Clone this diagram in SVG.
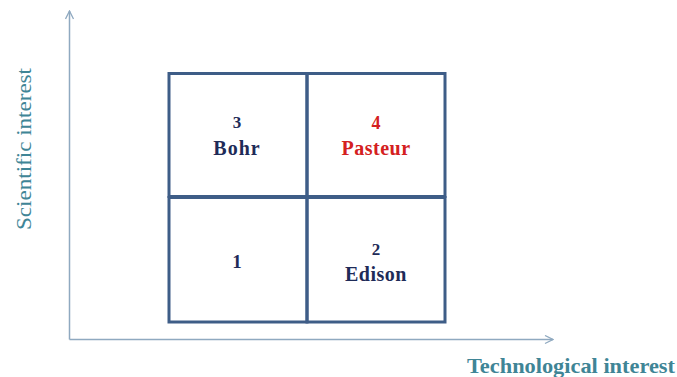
<svg xmlns="http://www.w3.org/2000/svg" width="677" height="377" viewBox="0 0 677 377">
<style>
.ax{stroke:#8fa9c0;stroke-width:1.5;fill:none}
.grid{stroke:#3e5d87;stroke-width:3;fill:none}
text{font-family:'Liberation Serif','Times New Roman','DejaVu Serif',serif}
.lbl{fill:#3f8596}
.t{font-weight:bold;fill:#1e2b58;text-anchor:middle}
.red{fill:#d42020}
</style>
<defs>
<marker id="arr" viewBox="0 0 10 10" refX="9" refY="5" markerWidth="10" markerHeight="10" markerUnits="userSpaceOnUse" orient="auto">
<path d="M1,1 L9,5 L1,9" fill="none" stroke="#8fa9c0" stroke-width="1.3"/>
</marker>
</defs>
<g id="connectors">
<line class="ax" x1="69.5" y1="339.5" x2="69.5" y2="11" marker-end="url(#arr)"/>
<line class="ax" x1="69.5" y1="339.5" x2="553" y2="339.5" marker-end="url(#arr)"/>
</g>
<g id="axis-labels">
<text class="lbl" font-family="Liberation Serif, serif" font-size="22" transform="translate(31,149) rotate(-90)" text-anchor="middle" textLength="162" lengthAdjust="spacingAndGlyphs">Scientific interest</text>
<text class="lbl" font-family="Liberation Serif, serif" font-size="21" font-weight="bold" x="467" y="373" textLength="208" lengthAdjust="spacingAndGlyphs">Technological interest</text>
</g>
<g id="q3">
<rect class="grid" x="169" y="73.5" width="138" height="123"/>
<text class="t" font-family="Liberation Serif, serif" x="237" y="128" font-size="17" font-weight="normal">3</text>
<text class="t" font-family="Liberation Serif, serif" x="237" y="155" font-size="20" letter-spacing="1">Bohr</text>
</g>
<g id="q4">
<rect class="grid" x="307" y="73.5" width="138" height="123"/>
<text class="t red" font-family="Liberation Serif, serif" x="376" y="129" font-size="18">4</text>
<text class="t red" font-family="Liberation Serif, serif" x="376" y="155" font-size="20" letter-spacing="0.5">Pasteur</text>
</g>
<g id="q1">
<rect class="grid" x="169" y="197.5" width="138" height="124.5"/>
<text class="t" font-family="Liberation Serif, serif" x="237" y="268" font-size="19">1</text>
</g>
<g id="q2">
<rect class="grid" x="307" y="197.5" width="138" height="124.5"/>
<text class="t" font-family="Liberation Serif, serif" x="376" y="255" font-size="17" font-weight="normal">2</text>
<text class="t" font-family="Liberation Serif, serif" x="376" y="281" font-size="20" letter-spacing="0.5">Edison</text>
</g>
</svg>
